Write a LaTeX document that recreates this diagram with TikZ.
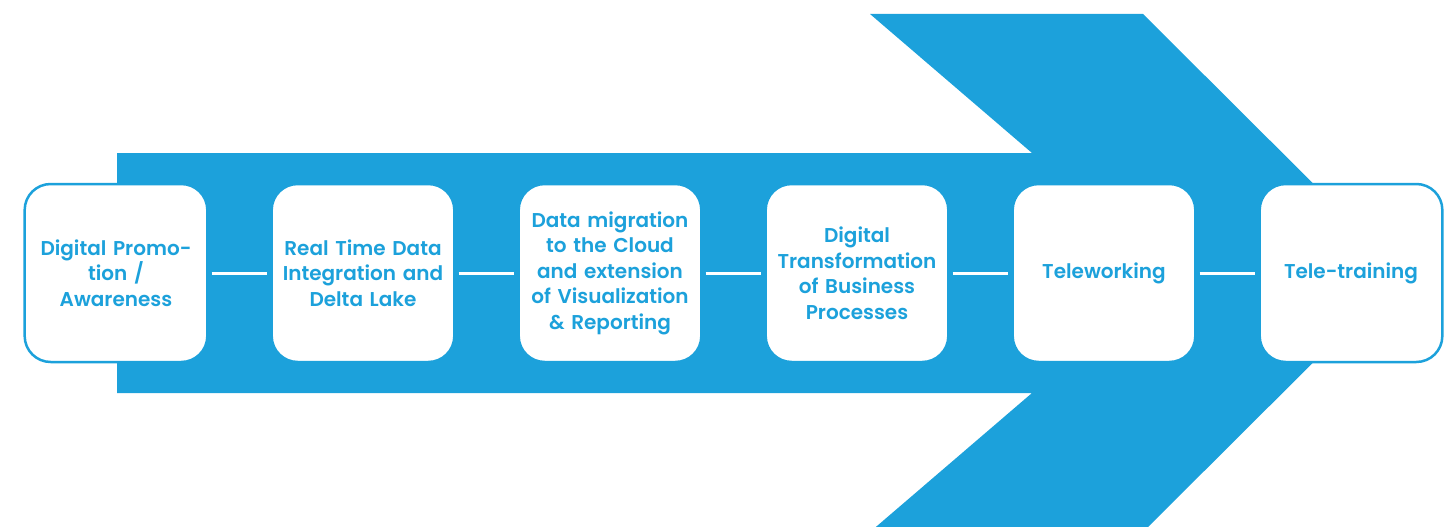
\documentclass[tikz,border=0pt]{standalone}
\usepackage{fontspec}
\setmainfont{Poppins}[BoldFont={Poppins SemiBold}]
\usetikzlibrary{positioning}
\definecolor{arrowblue}{RGB}{28,161,219}

\begin{document}
\begin{tikzpicture}[x=1pt, y=-1pt, node distance=247pt]
	\tikzstyle{box} = [rectangle, rounded corners=26pt, minimum width=178pt, minimum height=178pt, text width=176pt, align=center, fill=white, draw=arrowblue, line width=2.5pt, text=arrowblue, font=\fontsize{20}{25.5}\selectfont\bfseries]
	\tikzstyle{link} = [white, line width=3pt, shorten >=3pt, shorten <=3pt]

	\clip (0,0) rectangle (1452,527);

	% big arrow behind the steps
	\fill[arrowblue] (117,153) -- (1032,153) -- (870,14) -- (1143,14) -- (1403,273) -- (1143,532) -- (870,532) -- (1032,393) -- (117,393) -- cycle;

	\node[box] at (116,273) (promo){Digital Promo-\\tion /\\Awareness};

	\node[box, right of=promo](realtime){Real Time Data\\Integration and\\Delta Lake};
	\draw[link] (promo) to (realtime);

	\node[box, right of=realtime](migration){Data migration\\to the Cloud\\and extension\\of Visualization\\\& Reporting};
	\draw[link] (realtime) to (migration);

	\node[box, right of=migration](business){Digital\\Transformation\\of Business\\Processes};
	\draw[link] (migration) to (business);

	\node[box, right of=business](telework){Teleworking};
	\draw[link] (business) to (telework);

	\node[box, right of=telework](teletrain){Tele-training};
	\draw[link] (telework) to (teletrain);

\end{tikzpicture}
\end{document}
